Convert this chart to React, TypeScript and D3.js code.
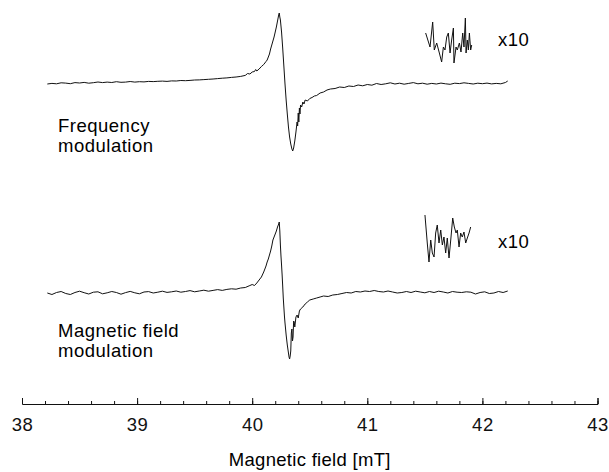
import { useLayoutEffect, useRef } from 'react'
import * as d3 from 'd3'

// EPR spectra, [field (mT), signal (a.u.)]
const freqMod: [number, number][] = [
  [38.22, 0], [38.26, 0.6], [38.30, 0.2], [38.34, 1.2], [38.38, 0.9], [38.42, 0.3],
  [38.46, 1.4], [38.50, 1.0], [38.54, 1.6], [38.58, 0.8], [38.62, 1.3], [38.66, 2.0],
  [38.70, 1.4], [38.74, 1.9], [38.78, 1.5], [38.82, 2.3], [38.86, 1.7], [38.90, 1.9],
  [38.94, 2.5], [38.98, 1.9], [39.02, 2.3], [39.06, 2.1], [39.10, 2.6], [39.14, 2.4],
  [39.18, 2.7], [39.22, 2.9], [39.26, 2.6], [39.30, 3.1], [39.34, 3.0], [39.38, 3.5],
  [39.42, 3.3], [39.46, 3.6], [39.50, 4.0], [39.54, 4.1], [39.58, 4.4], [39.62, 4.7],
  [39.66, 5.0], [39.70, 5.4], [39.74, 5.8], [39.78, 6.1], [39.82, 6.6], [39.86, 7.0],
  [39.90, 7.6], [39.94, 8.6], [39.96, 10.5], [39.98, 10.0], [40.00, 12.0], [40.02, 12.5],
  [40.03, 14.5], [40.04, 13.0], [40.06, 15.0], [40.08, 17.5], [40.10, 19.5], [40.12, 22.5],
  [40.13, 24], [40.14, 27], [40.15, 30], [40.16, 35], [40.17, 39], [40.18, 43],
  [40.19, 47], [40.20, 52], [40.21, 57], [40.22, 63], [40.225, 66], [40.23, 69],
  [40.235, 71], [40.24, 67], [40.245, 64], [40.255, 52], [40.265, 36], [40.275, 18],
  [40.285, 0], [40.295, -16], [40.305, -30], [40.315, -43], [40.325, -53], [40.335, -60],
  [40.345, -65], [40.352, -67], [40.36, -64], [40.37, -57], [40.38, -48], [40.39, -38],
  [40.395, -42], [40.40, -29], [40.405, -38], [40.41, -24], [40.415, -30], [40.42, -21],
  [40.43, -23], [40.44, -18], [40.45, -20], [40.46, -16], [40.48, -17], [40.50, -14.5],
  [40.52, -13.5], [40.54, -12], [40.56, -11.5], [40.59, -9], [40.62, -8], [40.65, -6],
  [40.68, -5], [40.72, -4.5], [40.76, -3], [40.80, -3.5], [40.84, -2], [40.88, -2.5],
  [40.92, -1], [40.96, -1.8], [41.00, -0.5], [41.04, -1.2], [41.08, 0.5], [41.12, -0.5],
  [41.16, 0.2], [41.20, 1.2], [41.24, 0], [41.28, 0.8], [41.32, -0.2], [41.36, 0.6],
  [41.40, 1.4], [41.44, 0.2], [41.48, 0.8], [41.52, -0.2], [41.56, 0.6], [41.60, 0],
  [41.64, 0.9], [41.68, 0.2], [41.72, -0.3], [41.76, 0.8], [41.80, 0.4], [41.84, 1.2],
  [41.88, 0.6], [41.92, 0], [41.96, 0.8], [42.00, 0.3], [42.04, 0.9], [42.08, 0.1],
  [42.12, 0.6], [42.16, 0.2], [42.20, 1.5], [42.22, 3]
]

const fieldMod: [number, number][] = [
  [38.22, 0], [38.26, -1.5], [38.30, 0.5], [38.34, 1.5], [38.38, -0.5], [38.42, -1.5],
  [38.46, 0.5], [38.50, 1.8], [38.54, 0.3], [38.58, -1], [38.62, 0.8], [38.66, 1.2],
  [38.70, -0.8], [38.74, 0.2], [38.78, 1.5], [38.82, 0.5], [38.86, -1.2], [38.90, 0.4],
  [38.94, 1.6], [38.98, 0.2], [39.02, -0.8], [39.06, 1.0], [39.10, 1.4], [39.14, 0.0],
  [39.18, 0.8], [39.22, 1.8], [39.26, 0.6], [39.30, 1.2], [39.34, 2.0], [39.38, 0.8],
  [39.42, 1.5], [39.46, 2.4], [39.50, 1.2], [39.54, 2.0], [39.58, 2.8], [39.62, 1.8],
  [39.66, 2.6], [39.70, 3.4], [39.74, 2.6], [39.78, 3.6], [39.82, 4.2], [39.86, 3.8],
  [39.90, 5.0], [39.94, 5.5], [39.98, 7.5], [40.00, 8.5], [40.02, 7.5], [40.04, 10],
  [40.06, 13], [40.08, 16], [40.10, 21], [40.12, 27], [40.13, 31], [40.14, 34],
  [40.15, 38], [40.16, 42], [40.17, 47], [40.18, 53], [40.19, 56], [40.20, 59],
  [40.21, 62], [40.22, 66], [40.23, 69], [40.235, 71], [40.24, 62], [40.245, 48],
  [40.25, 37], [40.255, 28], [40.26, 18], [40.265, 7], [40.27, -5], [40.275, -14],
  [40.28, -23], [40.285, -30], [40.29, -36], [40.295, -42], [40.30, -47], [40.305, -52],
  [40.31, -56], [40.315, -60], [40.32, -64], [40.325, -66], [40.33, -63], [40.335, -58],
  [40.34, -40], [40.345, -36], [40.35, -48], [40.355, -44], [40.36, -28], [40.365, -29],
  [40.37, -34], [40.38, -24], [40.39, -22], [40.40, -25], [40.41, -18], [40.42, -16],
  [40.44, -14], [40.46, -11], [40.48, -9], [40.50, -7], [40.53, -6], [40.56, -5],
  [40.59, -4], [40.62, -3], [40.66, -3.5], [40.70, -2], [40.74, -1.5], [40.78, -0.5],
  [40.82, 0.5], [40.86, 0], [40.90, 1.5], [40.94, 1], [40.98, 2], [41.02, 1.5],
  [41.06, 2.5], [41.10, 1.5], [41.14, 1], [41.18, 2], [41.22, 1], [41.26, 0],
  [41.30, 0.5], [41.34, 1.5], [41.38, 0.5], [41.42, 1.8], [41.46, 1], [41.50, 0.2],
  [41.54, 1.5], [41.58, 0.5], [41.62, 1.8], [41.66, 1], [41.70, 0], [41.74, 1.5],
  [41.78, 0.8], [41.82, 0.5], [41.86, 1.2], [41.90, 0.8], [41.94, -1], [41.98, 0.5],
  [42.02, 1.2], [42.06, -0.5], [42.10, 0], [42.14, 1.5], [42.18, 0.5], [42.22, 2]
]

// baseline noise, magnified x10
const freqZoom: [number, number][] = [
  [41.507, 9], [41.545, -5], [41.568, 20], [41.582, -8], [41.603, -1], [41.626, -11],
  [41.646, -20], [41.661, -5], [41.675, -8], [41.690, 5], [41.704, 9], [41.719, -11],
  [41.733, 2], [41.748, 14], [41.753, -21], [41.771, -5], [41.782, -8], [41.800, -1],
  [41.814, -10], [41.829, 9], [41.840, -5], [41.852, 24], [41.858, -11], [41.869, 2],
  [41.878, -8], [41.887, 9], [41.898, -8], [41.907, -3]
]

const fieldZoom: [number, number][] = [
  [41.501, 25], [41.521, -3], [41.536, -22], [41.551, 0], [41.565, -13], [41.580, -17],
  [41.594, 7], [41.608, 15], [41.623, -3], [41.638, 10], [41.652, -5], [41.666, 3],
  [41.681, -13], [41.695, 2], [41.710, -18], [41.725, 0], [41.742, 22], [41.756, 13],
  [41.771, 7], [41.782, 10], [41.797, -7], [41.811, 7], [41.825, 3], [41.840, 8],
  [41.855, -3], [41.869, 2], [41.884, 7], [41.898, 13]
]

const majorTicks = [38, 39, 40, 41, 42, 43]
const minorTicks = d3.range(38, 43.001, 0.2)

const useD3 = (renderChartFn, dependencies) => {
  const ref = useRef()

  useLayoutEffect(() => {
    const svg = d3.select(ref.current)
    svg.selectAll('*').remove()
    renderChartFn(svg)
    return () => {}
  }, dependencies)
  return ref
}

const font = '"Liberation Sans", Arial, Helvetica, sans-serif'
const fontSize = 18.5

const App = () => {
  const ref = useD3((svg) => {
    const x = d3.scaleLinear().domain([38, 43]).range([22, 597.5])
    const axisY = 404

    const panels = [
      { data: freqMod, base: 84, zoom: freqZoom, zoomBase: 42, xlY: 46, labels: ['Frequency', 'modulation'], labelY: 132 },
      { data: fieldMod, base: 293, zoom: fieldZoom, zoomBase: 240, xlY: 248, labels: ['Magnetic field', 'modulation'], labelY: 337 }
    ]

    panels.forEach((p) => {
      const y = d3.scaleLinear().domain([0, 70]).range([p.base, p.base - 70])
      const yz = d3.scaleLinear().domain([0, 20]).range([p.zoomBase, p.zoomBase - 20])
      const line = d3.line().x((d) => x(d[0]))

      svg.append('path')
        .attr('d', line.y((d) => y(d[1]))(p.data))
        .attr('fill', 'none')
        .attr('stroke', '#111')
        .attr('stroke-width', 1)
        .attr('stroke-linejoin', 'round')

      svg.append('path')
        .attr('d', d3.line().x((d) => x(d[0])).y((d) => yz(d[1]))(p.zoom))
        .attr('fill', 'none')
        .attr('stroke', '#111')
        .attr('stroke-width', 1)

      svg.append('text')
        .attr('x', 498)
        .attr('y', p.xlY)
        .attr('font-family', font)
        .attr('font-size', fontSize)
        .attr('letter-spacing', 0.5)
        .text('x10')

      // two-line label, one text per line
      p.labels.forEach((label, i) => {
        svg.append('text')
          .attr('x', 58)
          .attr('y', p.labelY + i * 19.5)
          .attr('font-family', font)
          .attr('font-size', fontSize)
          .attr('letter-spacing', 0.5)
          .text(label)
      })
    })

    const axis = svg.append('g').attr('transform', `translate(0,${axisY})`)
    axis.call(
      d3.axisBottom(x).tickValues(majorTicks).tickFormat(d3.format('d'))
        .tickSizeInner(-6).tickSizeOuter(-6).tickPadding(14)
    )
    axis.selectAll('text')
      .attr('font-size', fontSize)
      .attr('font-family', font)
      .attr('letter-spacing', 0.5)
      .attr('fill', '#111')
    axis.selectAll('line, path').attr('stroke', '#111')

    const minor = svg.append('g').attr('transform', `translate(0,${axisY})`)
    minor.call(d3.axisBottom(x).tickValues(minorTicks).tickSize(-3).tickFormat(() => ''))
    minor.select('.domain').remove()
    minor.selectAll('line').attr('stroke', '#111')

    svg.append('text')
      .attr('x', x(40.5))
      .attr('y', 466)
      .attr('text-anchor', 'middle')
      .attr('font-family', font)
      .attr('font-size', fontSize)
      .attr('letter-spacing', 0.3)
      .text('Magnetic field [mT]')
  }, [])

  return (
    <svg
      ref={ref}
      width={609}
      height={472}
      style={{ position: 'absolute', left: 0, top: 0, background: '#fff' }}
    />
  )
}

export default App
